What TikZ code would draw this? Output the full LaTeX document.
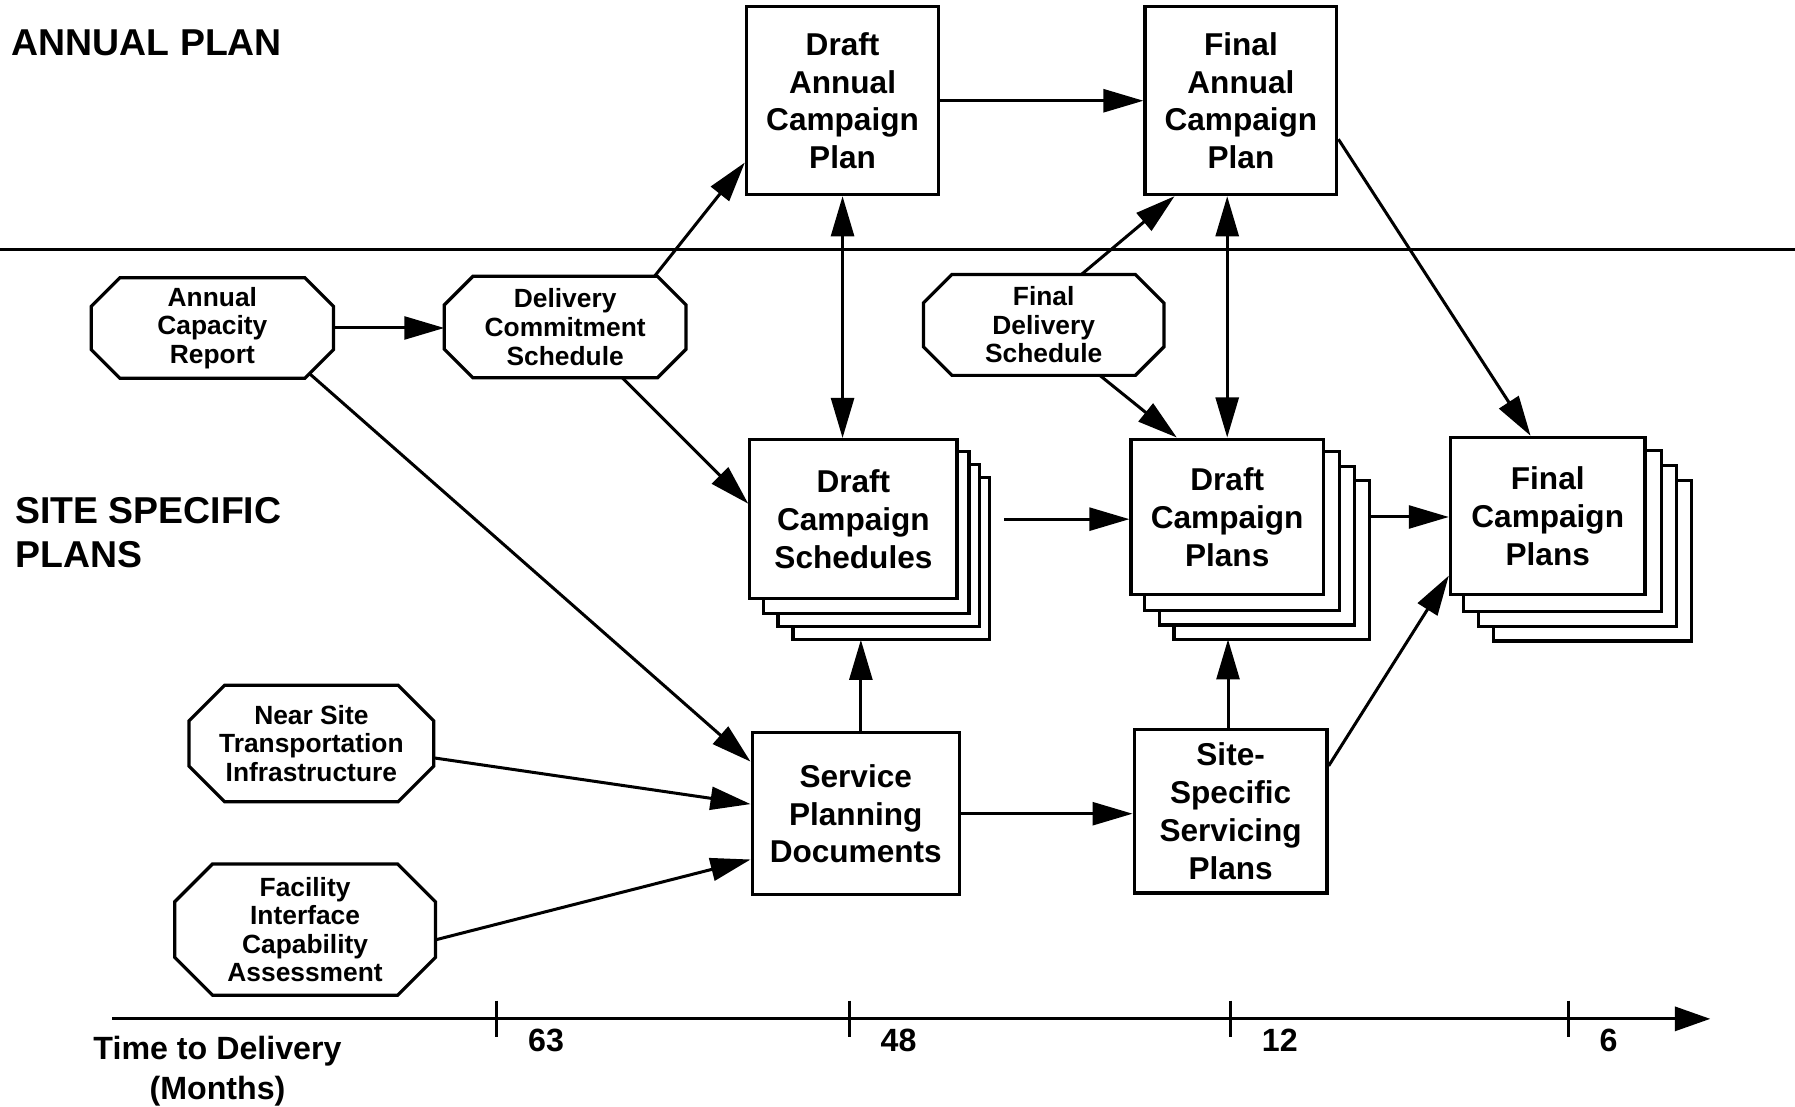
\documentclass[tikz,border=0pt]{standalone}
\usepackage{fontspec}
\setmainfont{Liberation Sans}
\usepackage{tikz}
\usetikzlibrary{arrows.meta}
\usetikzlibrary{backgrounds}
\newcommand{\planfont}{\fontsize{15.7}{18.8}\selectfont\bfseries}
\newcommand{\docfont}{\fontsize{13.1}{14.2}\selectfont\bfseries}
\newcommand{\bandfont}{\fontsize{18.6}{22}\selectfont\bfseries}
\newcommand{\axisfont}{\fontsize{16}{20}\selectfont\bfseries}
\tikzstyle{plan}=[draw, fill=white, line width=1.6pt, inner sep=0pt, align=center, font=\planfont]
\tikzstyle{doc}=[inner sep=0pt, align=center, font=\docfont]
\tikzstyle{flow}=[line width=1.5pt, -{Triangle[length=0.7cm, width=0.4cm]}]
\tikzstyle{twoway}=[line width=1.5pt, {Triangle[length=0.7cm, width=0.4cm]}-{Triangle[length=0.7cm, width=0.4cm]}]

\begin{document}
\begin{tikzpicture}[x=0.02cm, y=-0.02cm]
    \useasboundingbox (0,0) rectangle (1568,967);
    \draw[line width=1.6pt] (0,218) -- (1568,218);
    \node[anchor=west, inner sep=0pt, font=\bandfont] (annual) at (10,37) {ANNUAL PLAN};
    \node[anchor=west, inner sep=0pt, align=left, font=\bandfont] (site) at (13,465) {SITE SPECIFIC\\PLANS};

    % plans
    \node[plan, minimum width=3.36cm, minimum height=3.28cm] (dacp) at (736,88) {Draft\\Annual\\Campaign\\Plan};
    \node[plan, minimum width=3.35cm, minimum height=3.28cm] (facp) at (1084,88) {Final\\Annual\\Campaign\\Plan};
    \node[plan, minimum width=3.62cm, minimum height=2.78cm] (dcsch) at (745.5,453.5) {Draft\\Campaign\\Schedules};
    \node[plan, minimum width=3.36cm, minimum height=2.72cm] (dcp) at (1072,451.6) {Draft\\Campaign\\Plans};
    \node[plan, minimum width=3.40cm, minimum height=2.75cm] (fcp) at (1352,450.8) {Final\\Campaign\\Plans};
    \node[plan, minimum width=3.62cm, minimum height=2.83cm] (spd) at (747.5,710.8) {Service\\Planning\\Documents};
    \node[plan, minimum width=3.37cm, minimum height=2.85cm] (sssp) at (1075,708.8) {Site-\\Specific\\Servicing\\Plans};

    % inputs
    \node[doc, minimum width=4.22cm, minimum height=1.74cm] (acr) at (185.5,286.5) {Annual\\Capacity\\Report};
    \node[doc, minimum width=4.21cm, minimum height=1.76cm] (dcs) at (493.7,285.7) {Delivery\\Commitment\\Schedule};
    \node[doc, minimum width=4.19cm, minimum height=1.75cm] (fds) at (911.7,283.8) {Final\\Delivery\\Schedule};
    \node[doc, minimum width=4.26cm, minimum height=2.02cm] (nst) at (272,649.5) {Near Site\\Transportation\\Infrastructure};
    \node[doc, minimum width=4.54cm, minimum height=2.28cm] (fic) at (266.5,812) {Facility\\Interface\\Capability\\Assessment};
    \foreach \n/\c in {acr/25, dcs/25, fds/25, nst/31, fic/33}
      \draw[line width=1.6pt] ([shift={(\c,0)}]\n.north west) -- ([shift={(-\c,0)}]\n.north east)
        -- ([shift={(0,\c)}]\n.north east) -- ([shift={(0,-\c)}]\n.south east)
        -- ([shift={(-\c,0)}]\n.south east) -- ([shift={(\c,0)}]\n.south west)
        -- ([shift={(0,-\c)}]\n.south west) -- ([shift={(0,\c)}]\n.north west) -- cycle;

    % stacked sheets
    \begin{scope}[on background layer]
      \foreach \n/\dx/\dr/\dy in {dcsch/13/9/11.5, dcp/13/13/12.5, fcp/13/13/13}
        \foreach \k in {3,2,1}
          \draw[line width=1.6pt, fill=white] ([shift={(\k*\dx,\k*\dy)}]\n.north west) rectangle ([shift={(\k*\dr,\k*\dy)}]\n.south east);
    \end{scope}

    % connectors
    \draw[flow] (dacp.east) -- (dacp.east -| facp.west);
    \draw[flow] (acr.east) -- (acr.east -| dcs.west);
    \draw[flow] ([shift={(78,0)}]dcs.north) -- ([shift={(0,54)}]dacp.west);
    \draw[flow] ([shift={(50,0)}]dcs.south) -- ([shift={(0,-13.5)}]dcsch.west);
    \draw[twoway] (dacp.south) -- (dacp.south |- dcsch.north);
    \draw[twoway] (dcp.north |- facp.south) -- (dcp.north);
    \draw[flow] ([shift={(33,0)}]fds.north) -- ([shift={(-58,0)}]facp.south);
    \draw[flow] ([shift={(49,0)}]fds.south) -- ([shift={(-44,0)}]dcp.north);
    \draw[flow] ([shift={(0,33.6)}]facp.east) -- ([shift={(-15,0)}]fcp.north);
    \draw[flow] ([shift={(40,0)}]dcsch.east) -- (dcsch.east -| dcp.west);
    \draw[flow] ([shift={(39,0)}]dcp.east) -- (dcp.east -| fcp.west);
    \draw[flow] ([shift={(-21,-4)}]acr.south east) -- ([shift={(0,-45.5)}]spd.west);
    \draw[flow] ([shift={(0,12.5)}]nst.east) -- ([shift={(0,-8.4)}]spd.west);
    \draw[flow] ([shift={(0,9)}]fic.east) -- ([shift={(0,40)}]spd.west);
    \coordinate (dcschfoot) at ([shift={(6.5,34.5)}]dcsch.south);
    \coordinate (dcpfoot) at ([shift={(0.7,37.5)}]dcp.south);
    \draw[flow] (dcschfoot |- spd.north) -- (dcschfoot);
    \draw[flow] (spd.east) -- (spd.east -| sssp.west);
    \draw[flow] (dcpfoot |- sssp.north) -- (dcpfoot);
    \draw[flow] ([shift={(0,-39.8)}]sssp.east) -- ([shift={(0,52)}]fcp.west);

    % time axis
    \coordinate (axis0) at (98,890);
    \coordinate (axis1) at (1494,890);
    \draw[line width=1.6pt, -{Triangle[length=0.62cm, width=0.42cm]}] (axis0) -- (axis1);
    \foreach \x/\m in {434/63, 742/48, 1075/12, 1370/6} {
      \draw[line width=1.6pt] (\x,874) -- (\x,906);
      \node[anchor=west, inner sep=0pt, font=\axisfont] (m\m) at (\x+27,909) {\m};
    }
    \node[align=center, inner sep=0pt, font=\axisfont] (ttd) at (190,936) {Time to Delivery\\(Months)};
\end{tikzpicture}
\end{document}
